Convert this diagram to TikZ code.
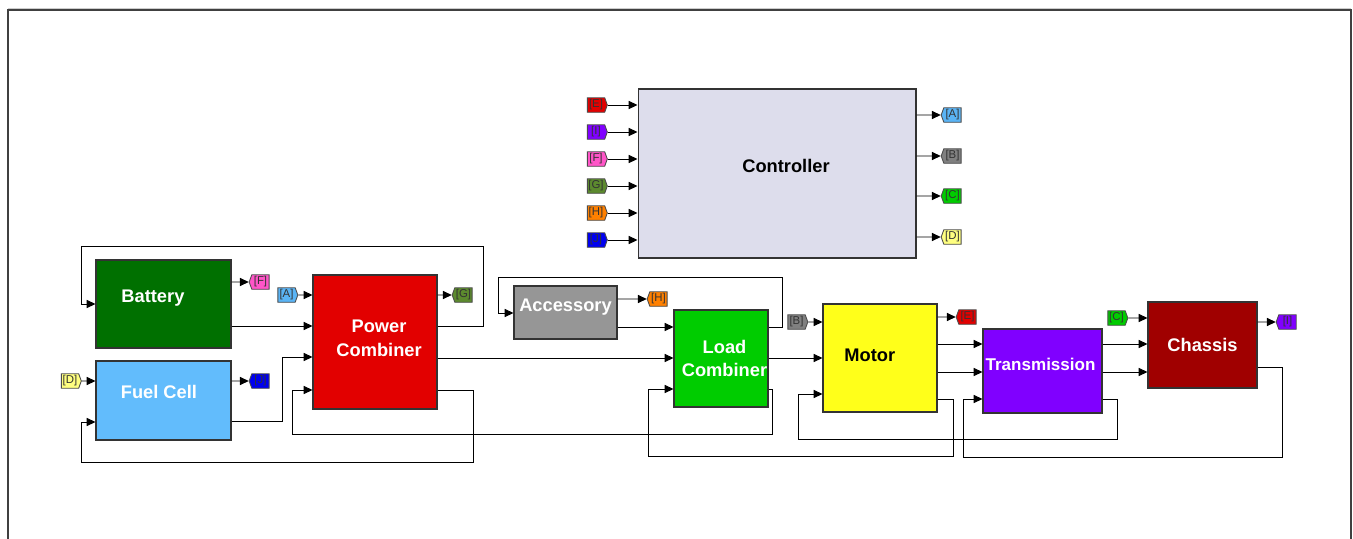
\documentclass[tikz,border=0pt]{standalone}
\usepackage{fontspec}
\setmainfont{Liberation Sans}
\usetikzlibrary{shapes.symbols, arrows.meta, calc}

\definecolor{ctrlbg}{RGB}{221,221,236}
\definecolor{batg}{RGB}{0,112,0}
\definecolor{fcb}{RGB}{98,188,252}
\definecolor{pcr}{RGB}{226,0,0}
\definecolor{accg}{RGB}{150,150,150}
\definecolor{lcg}{RGB}{0,204,0}
\definecolor{moty}{RGB}{255,255,26}
\definecolor{trp}{RGB}{128,0,255}
\definecolor{chr}{RGB}{160,0,0}
\definecolor{tagA}{RGB}{90,180,245}
\definecolor{tagB}{RGB}{128,128,128}
\definecolor{tagC}{RGB}{0,204,0}
\definecolor{tagD}{RGB}{255,255,128}
\definecolor{tagE}{RGB}{226,0,0}
\definecolor{tagF}{RGB}{255,85,200}
\definecolor{tagG}{RGB}{92,138,46}
\definecolor{tagH}{RGB}{255,128,0}
\definecolor{tagI}{RGB}{128,0,255}
\definecolor{tagJ}{RGB}{0,0,240}

\begin{document}
\begin{tikzpicture}[x=0.02cm, y=-0.02cm,
    blk/.style={draw=black!80, line width=0.6pt, rectangle, inner sep=0pt},
    wtxt/.style={text=white, font=\fontsize{10.4}{13.6}\selectfont\bfseries, align=center},
    btxt/.style={wtxt, text=black},
    fromtag/.style={signal, signal to=east, signal pointer angle=140, draw=black!70, line width=0.5pt,
        minimum width=0.4cm, minimum height=0.29cm, inner sep=0pt, font=\fontsize{6.5}{7}\selectfont, text=black!80},
    gototag/.style={fromtag, signal to=west},
    sig/.style={-{Triangle[length=5pt,width=4.6pt]}, line width=0.5pt}]
    \useasboundingbox (0,0) rectangle (1353,538);

    % Frame
    \draw[black!20, line width=0.6pt] (8,8.5) -- (1351,8.5);
    \draw[black!75, line width=0.8pt] (8,545) -- (8,10) -- (1351,10) -- (1351,545);

    % Blocks
    \node[blk, fill=ctrlbg, minimum width=5.56cm, minimum height=3.38cm,
        label={[btxt,xshift=5.1pt,yshift=4.3pt]center:Controller}] (ctrl) at (777,173.5) {};
    \node[blk, fill=batg, minimum width=2.70cm, minimum height=1.76cm,
        label={[wtxt,xshift=-6pt,yshift=3.4pt]center:Battery}] (bat) at (163.5,304) {};
    \node[blk, fill=fcb, minimum width=2.70cm, minimum height=1.58cm,
        label={[wtxt,xshift=-2.6pt,yshift=4.8pt]center:Fuel Cell}] (fc) at (163.5,400.5) {};
    \node[blk, fill=pcr, minimum width=2.48cm, minimum height=2.68cm,
        label={[wtxt,xshift=2.3pt,yshift=2.3pt]center:{Power\\Combiner}}] (pc) at (375,342) {};
    \node[blk, fill=accg, minimum width=2.06cm, minimum height=1.06cm,
        label={[wtxt,yshift=3.1pt]center:Accessory}] (acc) at (565.5,312.5) {};
    \node[blk, fill=lcg, minimum width=1.88cm, minimum height=1.94cm,
        label={[wtxt,xshift=2pt]center:{Load\\Combiner}}] (lc) at (721,358.5) {};
    \node[blk, fill=moty, minimum width=2.28cm, minimum height=2.16cm,
        label={[btxt,xshift=-5.8pt,yshift=1.7pt]center:Motor}] (mot) at (880,358) {};
    \node[blk, fill=trp, minimum width=2.38cm, minimum height=1.68cm,
        label={[wtxt,font=\fontsize{9.7}{12}\selectfont\bfseries,xshift=-1.1pt,yshift=4pt]center:Transmission}] (tr) at (1042.5,371) {};
    \node[blk, fill=chr, minimum width=2.18cm, minimum height=1.72cm,
        label={[wtxt]center:Chassis}] (ch) at (1202.5,345) {};

    % Controller inputs and outputs
    \foreach \t/\y in {E/105, I/132, F/159, G/186, H/213, J/240} {
        \node[fromtag, fill=tag\t] (cin\t) at (596,\y) {[\t]};
        \draw[sig] (cin\t) -- (ctrl.west |- cin\t);
    }
    \foreach \t/\y in {A/115, B/156, C/196, D/237} {
        \node[gototag, fill=tag\t] (cout\t) at (952.5,\y) {[\t]};
        \draw[sig] (ctrl.east |- cout\t) -- (cout\t);
    }

    % Tags
    \node[gototag, fill=tagF] (tF) at (260.5,282) {[F]};
    \node[fromtag, fill=tagA] (tA) at (286.5,295) {[A]};
    \node[fromtag, fill=tagD] (tD) at (70,381) {[D]};
    \node[gototag, fill=tagJ] (tJ) at (260.5,381) {[J]};
    \node[gototag, fill=tagG] (tG) at (463.5,295) {[G]};
    \node[gototag, fill=tagH] (tH) at (658.5,299) {[H]};
    \node[fromtag, fill=tagB] (tB) at (796.5,322) {[B]};
    \node[gototag, fill=tagE] (tE) at (967.5,317) {[E]};
    \node[fromtag, fill=tagC] (tC) at (1116.5,318) {[C]};
    \node[gototag, fill=tagI] (tI) at (1287.5,322) {[I]};

    % Sources to power combiner
    \draw[sig] (bat.east |- tF) -- (tF);
    \draw[sig] (tA) -- (pc.west |- tA);
    \draw[sig] (tD) -- (fc.west |- tD);
    \draw[sig] (fc.east |- tJ) -- (tJ);
    \draw[sig] (bat.east |- 0,326) -- (pc.west |- 0,326);
    \draw[sig] (fc.east |- 0,421) -| (282,357) -- (pc.west |- 0,357);
    \draw[sig] (pc.east |- 0,326) -| (483,246) -| (81,304) -- (bat.west |- 0,304);
    \draw[sig] (pc.east |- 0,390) -| (473,462) -| (81,422) -- (fc.west |- 0,422);
    \draw[sig] (pc.east |- tG) -- (tG);

    % Load side
    \draw[sig] (pc.east |- 0,358) -- (lc.west |- 0,358);
    \draw[sig] (acc.east |- tH) -- (tH);
    \draw[sig] (acc.east |- 0,327) -- (lc.west |- 0,327);
    \draw[sig] (lc.east |- 0,327) -| (782,277) -| (498,313) -- (acc.west |- 0,313);
    \draw[sig] (lc.east |- 0,389) -| (772,434) -| (292,390) -- (pc.west |- 0,390);
    \draw[sig] (lc.east |- 0,358) -- (mot.west |- 0,358);

    % Drive line
    \draw[sig] (tB) -- (mot.west |- tB);
    \draw[sig] (mot.east |- tE) -- (tE);
    \draw[sig] (mot.east |- 0,344) -- (tr.west |- 0,344);
    \draw[sig] (mot.east |- 0,372) -- (tr.west |- 0,372);
    \draw[sig] (mot.east |- 0,399) -| (953,456) -| (648,389) -- (lc.west |- 0,389);
    \draw[sig] (tr.east |- 0,344) -- (ch.west |- 0,344);
    \draw[sig] (tr.east |- 0,372) -- (ch.west |- 0,372);
    \draw[sig] (tr.east |- 0,399) -| (1117,439) -| (798,394) -- (mot.west |- 0,394);
    \draw[sig] (tC) -- (ch.west |- tC);
    \draw[sig] (ch.east |- tI) -- (tI);
    \draw[sig] (ch.east |- 0,367) -| (1282,457) -| (963,399) -- (tr.west |- 0,399);
\end{tikzpicture}
\end{document}
